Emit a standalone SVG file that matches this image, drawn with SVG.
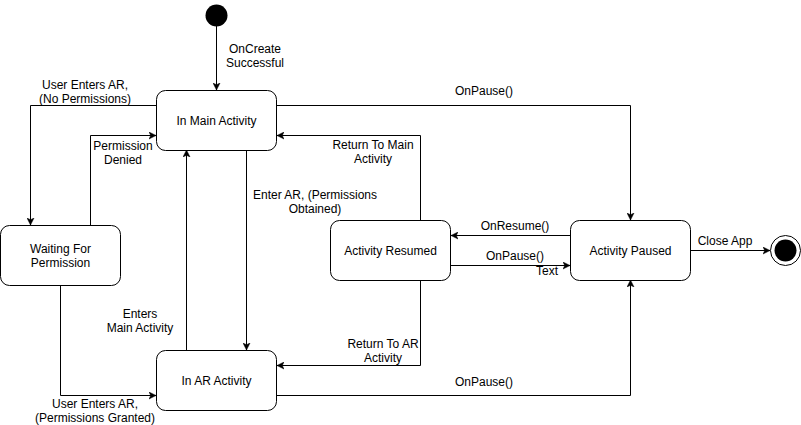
<svg xmlns="http://www.w3.org/2000/svg" width="801" height="425" viewBox="0 0 801 425">
<style>
text { font-family: "Liberation Sans", Arial, Helvetica, sans-serif; font-size: 12px; fill: #000; text-anchor: middle; }
.node rect { fill: #fff; stroke: #000; stroke-width: 1; }
.edges path { fill: none; stroke: #000; stroke-width: 1; marker-end: url(#arr); }
</style>
<defs>
<marker id="arr" markerUnits="userSpaceOnUse" markerWidth="8" markerHeight="8" refX="7" refY="3.5" orient="auto" viewBox="0 0 8 7">
<path d="M0,0 L7,3.5 L0,7 L1.75,3.5 Z" fill="#000" stroke="#000" stroke-width="0.5"/>
</marker>
</defs>
<rect width="801" height="425" fill="#fff"/>
<g id="connectors" class="edges">
<path d="M216.5,26 V90"/>
<path d="M156.5,105.5 H30.5 V225"/>
<path d="M90.5,225 V135.5 H156"/>
<path d="M246.5,150 V350"/>
<path d="M186.5,350 V150"/>
<path d="M60.5,285 V395.5 H156"/>
<path d="M420.5,220 V135.5 H277"/>
<path d="M420.5,280 V365.5 H277"/>
<path d="M276.5,105.5 H630.5 V220"/>
<path d="M570,235.5 H451"/>
<path d="M450.5,265.5 H570"/>
<path d="M276.5,395.5 H630.5 V280"/>
<path d="M690.5,250.5 H770"/>
</g>
<g id="edge-labels">
<text x="255" y="53">OnCreate</text>
<text x="255" y="67">Successful</text>
<text x="85" y="89">User Enters AR,</text>
<text x="85" y="103">(No Permissions)</text>
<text x="123" y="150">Permission</text>
<text x="123" y="164">Denied</text>
<text x="315" y="199">Enter AR, (Permissions</text>
<text x="315" y="213">Obtained)</text>
<text x="140" y="318">Enters</text>
<text x="140" y="332">Main Activity</text>
<text x="95" y="408">User Enters AR,</text>
<text x="95" y="422">(Permissions Granted)</text>
<text x="373" y="149">Return To Main</text>
<text x="373" y="163">Activity</text>
<text x="383" y="348">Return To AR</text>
<text x="383" y="362">Activity</text>
<text x="484" y="95">OnPause()</text>
<text x="484" y="386">OnPause()</text>
<text x="515" y="230">OnResume()</text>
<text x="515" y="260">OnPause()</text>
<text x="547" y="275">Text</text>
<text x="725" y="245">Close App</text>
</g>
<g id="start"><circle cx="216.5" cy="15.5" r="11" fill="#000"/></g>
<g id="main" class="node"><rect x="156.5" y="90.5" width="120" height="60" rx="9"/><text x="216.5" y="124.5">In Main Activity</text></g>
<g id="waiting" class="node"><rect x="0.5" y="225.5" width="120" height="60" rx="9"/><text x="60.5" y="252.5">Waiting For</text><text x="60.5" y="266.5">Permission</text></g>
<g id="ar" class="node"><rect x="156.5" y="350.5" width="120" height="60" rx="9"/><text x="216.5" y="384.5">In AR Activity</text></g>
<g id="resumed" class="node"><rect x="330.5" y="220.5" width="120" height="60" rx="9"/><text x="390.5" y="254.5">Activity Resumed</text></g>
<g id="paused" class="node"><rect x="570.5" y="220.5" width="120" height="60" rx="9"/><text x="630.5" y="254.5">Activity Paused</text></g>
<g id="end"><circle cx="785.5" cy="250.5" r="15" fill="#fff" stroke="#000"/><circle cx="785.5" cy="250.5" r="11" fill="#000"/></g>
</svg>
